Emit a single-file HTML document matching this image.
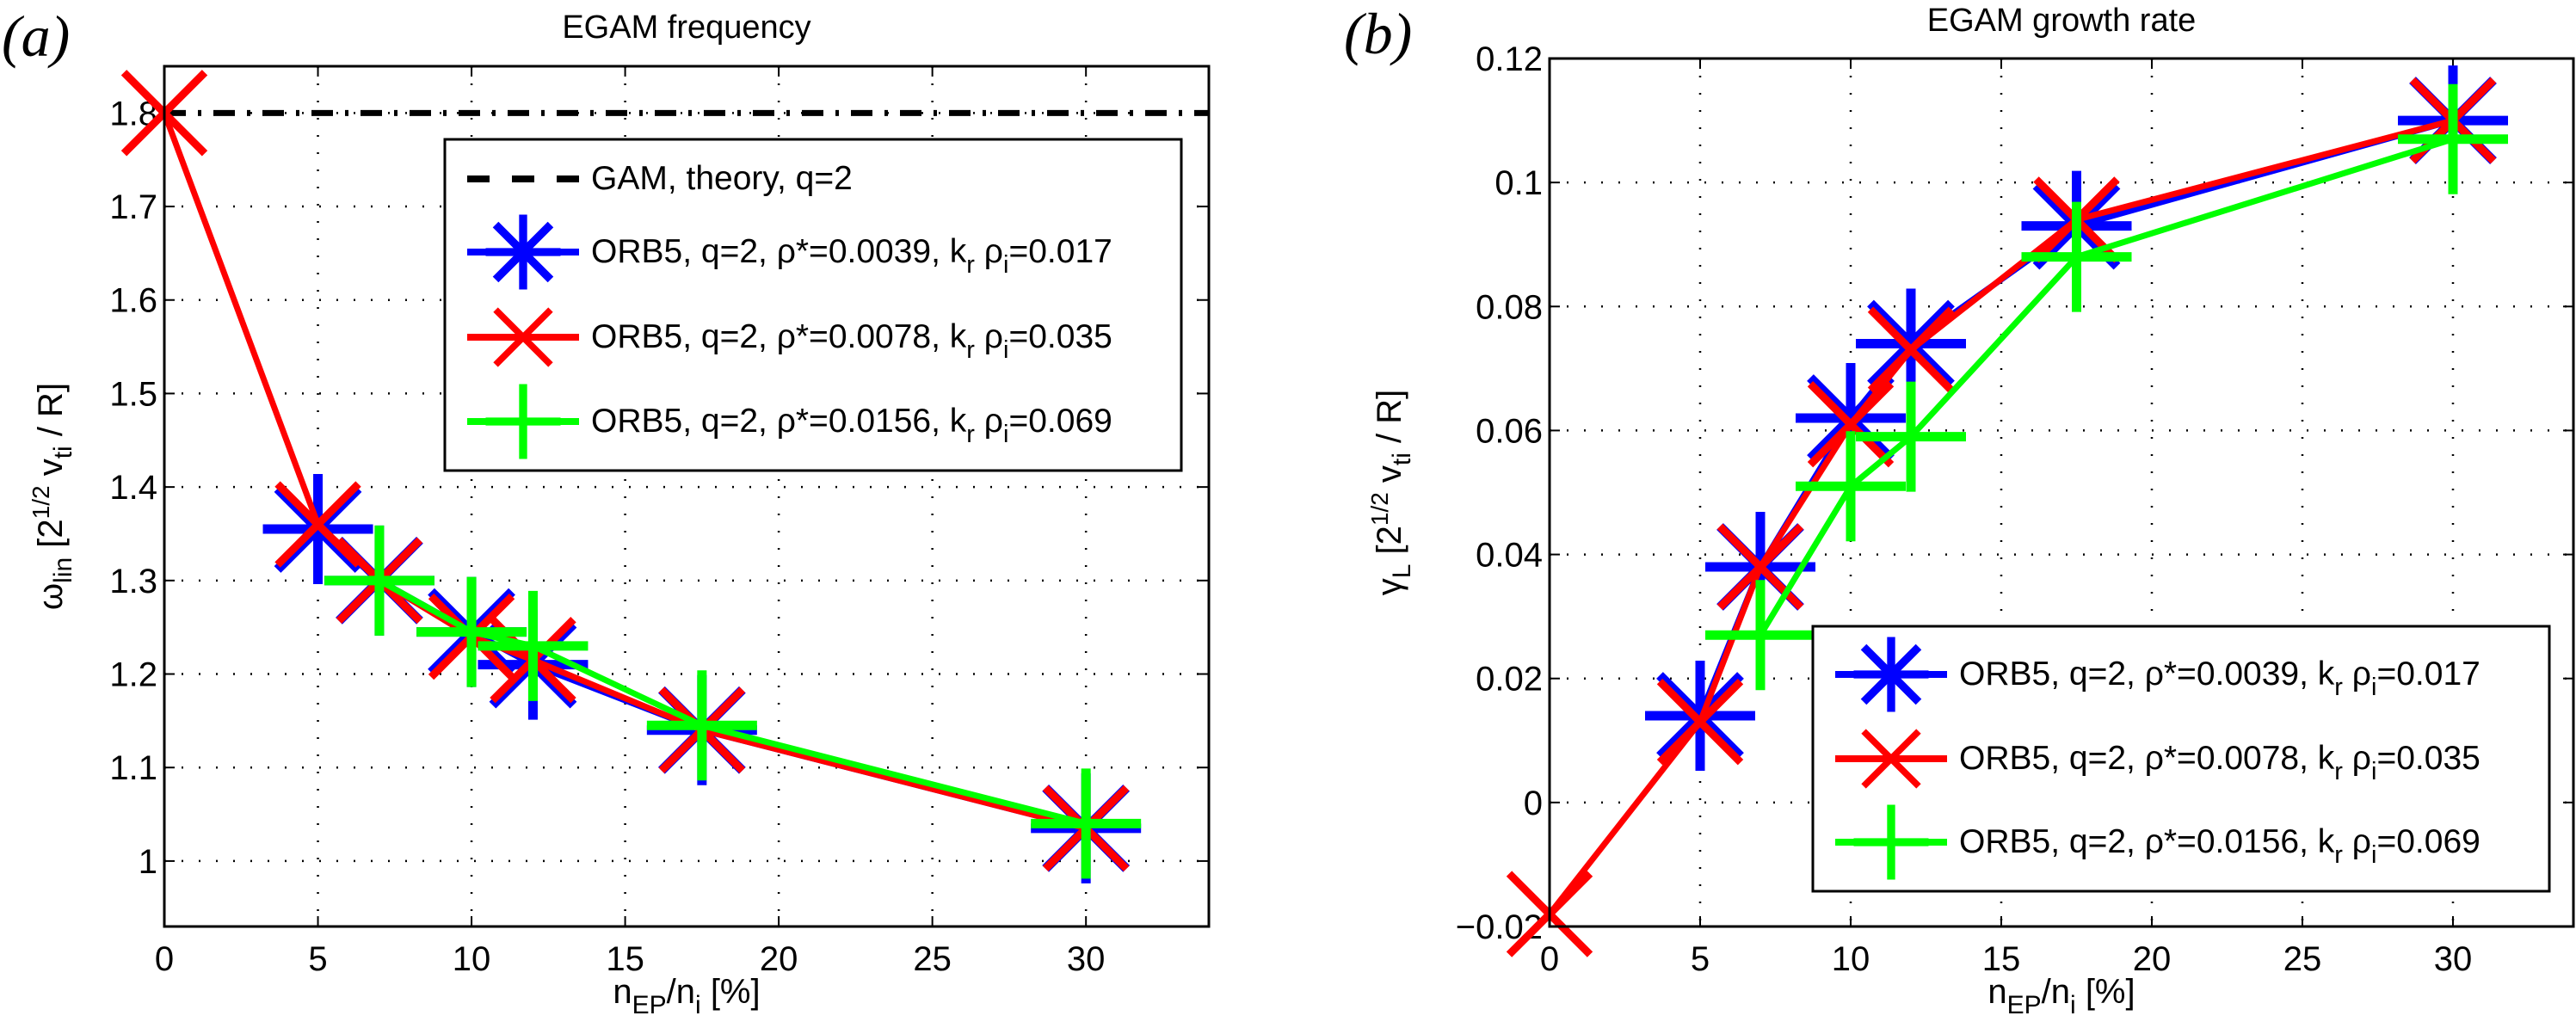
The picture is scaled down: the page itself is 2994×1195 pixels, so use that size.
<!DOCTYPE html>
<html><head><meta charset="utf-8"><style>
html,body{margin:0;padding:0;background:#fff;overflow:hidden}
svg{display:block;font-family:"Liberation Sans",sans-serif}
</style></head><body>
<svg id="fig" width="2994" height="1195" viewBox="0 0 2994 1195" xmlns="http://www.w3.org/2000/svg"></svg>
<script>
// ---- data panel (a) frequency ----
const xTicks = [0,5,10,15,20,25,30];
const aYTicks = [1,1.1,1.2,1.3,1.4,1.5,1.6,1.7,1.8];
const aYTickLabels = ["1","1.1","1.2","1.3","1.4","1.5","1.6","1.7","1.8"];
const aBlueX = [5,7,10,12,17.5,30];
const aBlueY = [1.355,1.30,1.245,1.21,1.14,1.035];
const aRedX = [0,5,7,10,12,17.5,30];
const aRedY = [1.80,1.36,1.30,1.24,1.215,1.14,1.035];
const aGreenX = [7,10,12,17.5,30];
const aGreenY = [1.30,1.245,1.23,1.145,1.04];
const gamTheory = 1.8;
// ---- data panel (b) growth rate ----
const bYTicks = [-0.02,0,0.02,0.04,0.06,0.08,0.1,0.12];
const bYTickLabels = ["\u22120.02","0","0.02","0.04","0.06","0.08","0.1","0.12"];
const bBlueX = [5,7,10,12,17.5,30];
const bBlueY = [0.014,0.038,0.062,0.074,0.093,0.110];
const bRedX = [0,5,7,10,12,17.5,30];
const bRedY = [-0.018,0.013,0.038,0.061,0.073,0.094,0.110];
const bGreenX = [7,10,12,17.5,30];
const bGreenY = [0.027,0.051,0.059,0.088,0.107];
const legendLabels = ["ORB5, q=2, \u03c1*=0.0039, k","ORB5, q=2, \u03c1*=0.0078, k","ORB5, q=2, \u03c1*=0.0156, k"];
const legendTails = ["=0.017","=0.035","=0.069"];

const NS="http://www.w3.org/2000/svg";
const svg=document.getElementById('fig');
function el(tag,attrs,parent){const e=document.createElementNS(NS,tag);for(const k in attrs)e.setAttribute(k,attrs[k]);(parent||svg).appendChild(e);return e;}
const BLUE="#0000ff",RED="#ff0000",GREEN="#00ff00";

function marker(g,type,cx,cy,color,sc){
  sc=sc||1;
  const p=64*sc, d=47*sc, w=(type==='x'?9:11)*Math.max(sc,0.85);
  let segs=[];
  if(type==='plus'||type==='star')segs.push([cx-p,cy,cx+p,cy],[cx,cy-p,cx,cy+p]);
  if(type==='star'||type==='x')segs.push([cx-d,cy-d,cx+d,cy+d],[cx-d,cy+d,cx+d,cy-d]);
  segs.forEach(q=>{const l=el('line',{x1:q[0],y1:q[1],x2:q[2],y2:q[3],stroke:color,'stroke-width':w},g);
    });
}
function series(g,name,xs,ys,X,Y,color,type){
  const sg=el('g',{},g);
  
  
  const pts=xs.map((x,i)=>X(x)+','+Y(ys[i])).join(' ');
  el('polyline',{points:pts,fill:'none',stroke:color,'stroke-width':7,'stroke-linejoin':'round'},sg);
  xs.forEach((x,i)=>marker(sg,type,X(x),Y(ys[i]),color));
}
function panel(o){
  const g=el('g',{});
  
  
  const X=v=>o.L+(v-0)/(34-0)*(o.R-o.L);
  const Y=v=>o.B-(v-o.ymin)/(o.ymax-o.ymin)*(o.B-o.T);
  xTicks.forEach(t=>{if(t>0){const l=el('line',{x1:X(t),x2:X(t),y1:o.T,y2:o.B,stroke:'#000','stroke-width':2.5,'stroke-dasharray':'2 18'},g);}});
  o.yt.forEach(t=>{const l=el('line',{x1:o.L,x2:o.R,y1:Y(t),y2:Y(t),stroke:'#000','stroke-width':2.5,'stroke-dasharray':'2 18'},g);});
  xTicks.forEach(t=>{const tx=el('text',{x:X(t),y:o.B+51,'font-size':40,'text-anchor':'middle'},g);tx.textContent=t;
    el('line',{x1:X(t),x2:X(t),y1:o.B,y2:o.B-12,stroke:'#000','stroke-width':2},g);el('line',{x1:X(t),x2:X(t),y1:o.T,y2:o.T+12,stroke:'#000','stroke-width':2},g);});
  o.yt.forEach((t,i)=>{const tx=el('text',{x:o.L-8,y:Y(t)+14,'font-size':40,'text-anchor':'end'},g);tx.textContent=o.ytl[i];
    el('line',{x1:o.L,x2:o.L+12,y1:Y(t),y2:Y(t),stroke:'#000','stroke-width':2},g);el('line',{x1:o.R,x2:o.R-12,y1:Y(t),y2:Y(t),stroke:'#000','stroke-width':2},g);});
  o.draw(g,X,Y);
  const fr=el('rect',{x:o.L,y:o.T,width:o.R-o.L,height:o.B-o.T,fill:'none',stroke:'#000','stroke-width':3},g);
  
  const ti=el('text',{x:(o.L+o.R)/2,y:o.titleY,'font-size':38,'text-anchor':'middle'},g);ti.textContent=o.title;
  
  const xl=el('text',{x:(o.L+o.R)/2,y:1166,'font-size':40,'text-anchor':'middle'},g);
  xl.innerHTML='n<tspan dy="12" font-size="30">EP</tspan><tspan dy="-12">/n</tspan><tspan dy="12" font-size="30">i</tspan><tspan dy="-12"> [%]</tspan>';
  
  const yl=el('text',{x:0,y:0,'font-size':40,'text-anchor':'middle',transform:`translate(${o.ylx},${(o.T+o.B)/2}) rotate(-90)`},g);
  yl.innerHTML=o.ylab;
  
  const pl=el('text',{x:o.plx,y:o.ply,'font-size':68,'font-style':'italic','font-family':'Liberation Serif, serif'},g);pl.textContent=o.pl;
  
  const lg=el('g',{},g);
  el('rect',{x:o.lx,y:o.ly,width:o.lw,height:o.lh,fill:'#fff',stroke:'#000','stroke-width':3},lg);
  o.rows.forEach((r,i)=>{const cy=o.ly+o.rowY[i];const e=el('g',{},lg);
    
    if(r.type==='dash'){el('line',{x1:o.lx+26,x2:o.lx+156,y1:cy,y2:cy,stroke:'#000','stroke-width':8,'stroke-dasharray':'26 26'},e);}
    else{el('line',{x1:o.lx+26,x2:o.lx+156,y1:cy,y2:cy,stroke:r.c,'stroke-width':8},e);marker(e,r.type,o.lx+91,cy,r.c,0.68);}
    const t=el('text',{x:o.lx+170,y:cy+12,'font-size':39},e);
    if(r.type==='dash')t.textContent='GAM, theory, q=2';
    else t.innerHTML=legendLabels[r.k]+'<tspan dy="12" font-size="29">r</tspan><tspan dy="-12"> \u03c1</tspan><tspan dy="12" font-size="29">i</tspan><tspan dy="-12">'+legendTails[r.k]+'</tspan>';
  });
}
panel({name:'panel-a-frequency',L:191,R:1405,T:77,B:1077,ymin:0.93,ymax:1.85,yt:aYTicks,ytl:aYTickLabels,
  title:'EGAM frequency',titleY:44,ylx:72,plx:2,ply:65,pl:'(a)',
  ylab:'\u03c9<tspan dy="11" font-size="30">lin</tspan><tspan dy="-11"> [2</tspan><tspan dy="-15" font-size="28">1/2</tspan><tspan dy="15"> v</tspan><tspan dy="11" font-size="30">ti</tspan><tspan dy="-11"> / R]</tspan>',
  lx:517,ly:162,lw:856,lh:385,rowY:[46,131,230,328],
  rows:[{type:'dash'},{type:'star',c:BLUE,k:0},{type:'x',c:RED,k:1},{type:'plus',c:GREEN,k:2}],
  draw:(g,X,Y)=>{
    const gl=el('line',{x1:X(0),x2:X(34),y1:Y(gamTheory),y2:Y(gamTheory),stroke:'#000','stroke-width':7,'stroke-dasharray':'25 14 4 14'},g);
    
    series(g,'series-blue',aBlueX,aBlueY,X,Y,BLUE,'star');
    series(g,'series-red',aRedX,aRedY,X,Y,RED,'x');
    series(g,'series-green',aGreenX,aGreenY,X,Y,GREEN,'plus');
  }});
panel({name:'panel-b-growth-rate',L:1801,R:2991,T:68,B:1077,ymin:-0.02,ymax:0.12,yt:bYTicks,ytl:bYTickLabels,
  title:'EGAM growth rate',titleY:36,ylx:1628,plx:1562,ply:62,pl:'(b)',
  ylab:'\u03b3<tspan dy="11" font-size="30">L</tspan><tspan dy="-11"> [2</tspan><tspan dy="-15" font-size="28">1/2</tspan><tspan dy="15"> v</tspan><tspan dy="11" font-size="30">ti</tspan><tspan dy="-11"> / R]</tspan>',
  lx:2107,ly:728,lw:856,lh:308,rowY:[56,154,251],
  rows:[{type:'star',c:BLUE,k:0},{type:'x',c:RED,k:1},{type:'plus',c:GREEN,k:2}],
  draw:(g,X,Y)=>{
    series(g,'series-blue',bBlueX,bBlueY,X,Y,BLUE,'star');
    series(g,'series-red',bRedX,bRedY,X,Y,RED,'x');
    series(g,'series-green',bGreenX,bGreenY,X,Y,GREEN,'plus');
  }});
</script>
</body></html>
